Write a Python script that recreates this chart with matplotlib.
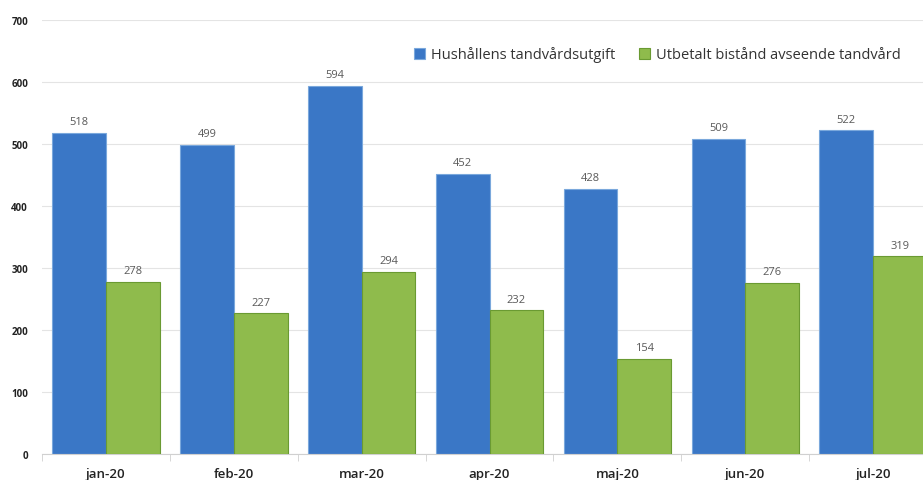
import numpy as np
import matplotlib.pyplot as plt

months = ["jan-20", "feb-20", "mar-20", "apr-20", "maj-20", "jun-20", "jul-20"]
hushall = [518, 499, 594, 452, 428, 509, 522]
bistand = [278, 227, 294, 232, 154, 276, 319]
names = ["Hushållens tandvårdsutgift", "Utbetalt bistånd avseende tandvård"]

plt.rcParams['font.family'] = ['Open Sans', 'DejaVu Sans']

fig = plt.figure(figsize=(9.23, 4.81), dpi=100)
ax = fig.add_axes([0.0455, 0.054, 0.9545, 0.902])

x = np.arange(len(months))
w = 0.42
b1 = ax.bar(x - w/2, hushall, w, color="#3a77c6", edgecolor="#7aa8dc", linewidth=0.8,
            label=names[0], zorder=2)
b2 = ax.bar(x + w/2, bistand, w, color="#8fbb4c", edgecolor="#6a9a32", linewidth=0.8,
            label=names[1], zorder=3)

for bars in (b1, b2):
    ax.bar_label(bars, padding=4, fontsize=8, color="#595959")

ax.set_ylim(0, 700)
ax.set_xlim(-0.5, 6.39)
ax.set_yticks(range(0, 701, 100))
ax.set_yticklabels([str(v) for v in range(0, 701, 100)], fontsize=7, fontweight="bold",
                   color="#222222")
ax.yaxis.grid(True, color="#e4e4e4", linewidth=0.8, zorder=0)
ax.tick_params(axis="y", length=0, pad=10)

ax.set_xticks(x)
ax.set_xticklabels(months, fontsize=9.5, fontweight="semibold", color="#222222")
ax.set_xticks(np.arange(-0.5, 6.5, 1), minor=True)
ax.tick_params(axis="x", which="major", length=0, pad=9)
ax.tick_params(axis="x", which="minor", length=5, color="#d0d0d0")

for s in ["top", "right", "left"]:
    ax.spines[s].set_visible(False)
ax.spines["bottom"].set_color("#d0d0d0")

ax.legend(loc="upper right", bbox_to_anchor=(0.99, 0.97), ncol=2, frameon=False,
          fontsize=10.5, handlelength=0.8, handleheight=0.8, handletextpad=0.4,
          columnspacing=1.6, labelcolor="#333333")

fig.savefig("out.png", dpi=100)
